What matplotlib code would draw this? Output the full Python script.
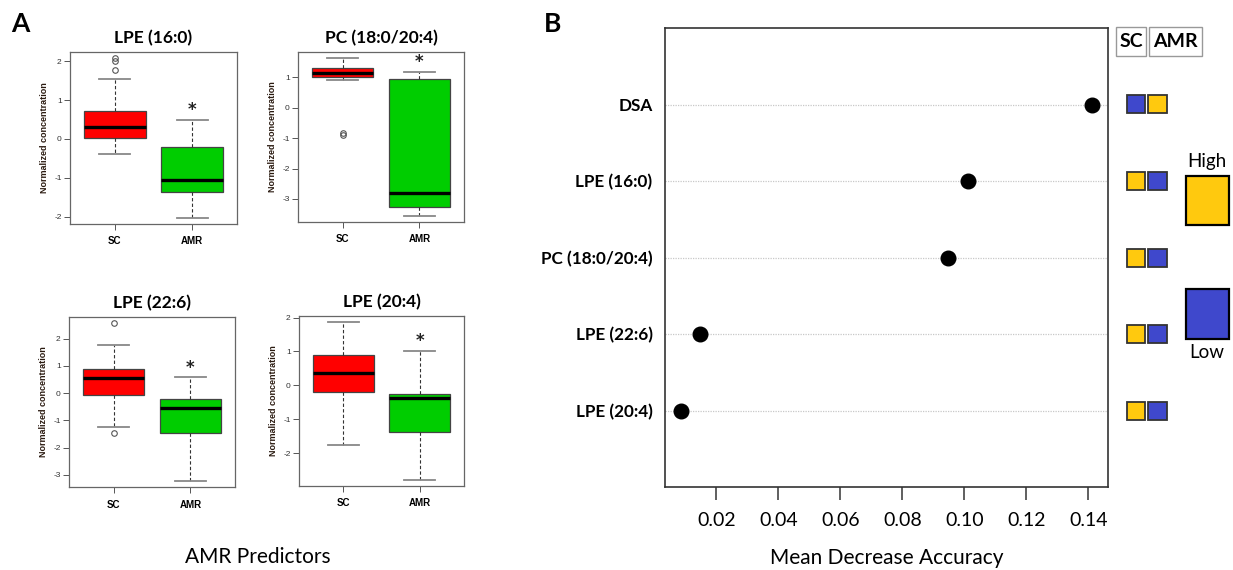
import numpy as np
import matplotlib
matplotlib.use("Agg")
import matplotlib.pyplot as plt
from matplotlib.patches import Rectangle

# ----------------------------------------------------------------------
# Data
# ----------------------------------------------------------------------
groups = ["SC", "AMR"]
box_titles = ["LPE (16:0)", "PC (18:0/20:4)", "LPE (22:6)", "LPE (20:4)"]

# per panel: [SC, AMR] -> (whislo, q1, median, q3, whishi)
box_lpe160 = [(-0.38, 0.03, 0.32, 0.73, 1.53), (-2.02, -1.35, -1.05, -0.21, 0.49)]
box_pc = [(0.91, 1.00, 1.13, 1.31, 1.62), (-3.55, -3.27, -2.79, 0.95, 1.18)]
box_lpe226 = [(-1.23, -0.06, 0.56, 0.88, 1.78), (-3.22, -1.47, -0.56, -0.23, 0.59)]
box_lpe204 = [(-1.77, -0.20, 0.37, 0.90, 1.86), (-2.78, -1.37, -0.37, -0.25, 1.02)]

fliers_lpe160 = [[1.76, 2.01, 2.07], []]
fliers_pc = [[-0.85, -0.91], []]
fliers_lpe226 = [[2.57, -1.48], []]
fliers_lpe204 = [[], []]

all_boxes = [box_lpe160, box_pc, box_lpe226, box_lpe204]
all_fliers = [fliers_lpe160, fliers_pc, fliers_lpe226, fliers_lpe204]
yticks_A = [[-2, -1, 0, 1, 2], [-3, -2, -1, 0, 1], [-3, -2, -1, 0, 1, 2], [-2, -1, 0, 1, 2]]

predictors = ["DSA", "LPE (16:0)", "PC (18:0/20:4)", "LPE (22:6)", "LPE (20:4)"]
mda = [0.141, 0.1012, 0.0948, 0.0148, 0.0087]
sc_level = ["Low", "High", "High", "High", "High"]
amr_level = ["High", "Low", "Low", "Low", "Low"]
xticks_B = [0.02, 0.04, 0.06, 0.08, 0.10, 0.12, 0.14]

level_colors = {"High": "#FFC90E", "Low": "#3F48CC"}
box_colors = ["#FF0000", "#00CD00"]

# ----------------------------------------------------------------------
# Figure
# ----------------------------------------------------------------------
W, H = 1233, 570
fig = plt.figure(figsize=(W / 100, H / 100), dpi=100)
fig.patch.set_facecolor("white")


def px_rect(left, top, right, bottom):
    return [left / W, 1 - bottom / H, (right - left) / W, (bottom - top) / H]


# panel A: four boxplots
rects_A = [(70, 52, 237, 224), (298, 52, 464, 222),
           (69, 317, 235, 487), (299, 316, 464, 486)]

for i in range(4):
    ax = fig.add_axes(px_rect(*rects_A[i]))
    stats = []
    for j in range(2):
        lo, q1, med, q3, hi = all_boxes[i][j]
        stats.append(dict(whislo=lo, q1=q1, med=med, q3=q3, whishi=hi,
                          fliers=all_fliers[i][j], label=groups[j]))
    bp = ax.bxp(stats, positions=[1, 2], widths=0.8, patch_artist=True,
                boxprops=dict(edgecolor="#444444", linewidth=0.9),
                medianprops=dict(color="black", linewidth=2.4),
                whiskerprops=dict(color="#333333", linestyle=(0, (3, 2)), linewidth=0.8),
                capprops=dict(color="#888888", linewidth=1.3),
                flierprops=dict(marker="o", markerfacecolor="none",
                                markeredgecolor="#555555", markersize=4, markeredgewidth=0.8))
    for patch, c in zip(bp["boxes"], box_colors):
        patch.set_facecolor(c)

    # significance star above the AMR whisker
    ax.text(2, all_boxes[i][1][4] + 0.02, "*", ha="center", va="bottom",
            fontsize=12, fontweight="bold", color="#222222")

    vals = [v for b in all_boxes[i] for v in b] + [v for f in all_fliers[i] for v in f]
    lo, hi = min(vals), max(vals)
    pad = (hi - lo) * 0.04
    ax.set_ylim(lo - pad, hi + pad)
    ax.set_xlim(0.42, 2.58)
    ax.set_yticks(yticks_A[i])
    ax.set_yticklabels([str(t) for t in yticks_A[i]], fontsize=6,
                       color="#333333", family="Liberation Sans")
    ax.set_xticks([1, 2])
    ax.set_xticklabels(groups, fontsize=7, fontweight="bold", family="Liberation Sans")
    ax.tick_params(axis="both", length=4, width=0.7, color="#555555", pad=2)
    ax.tick_params(axis="x", pad=5)
    for s in ax.spines.values():
        s.set_color("#666666")
        s.set_linewidth(0.9)
    ax.set_ylabel("Normalized concentration", fontsize=6.5, fontweight="bold",
                  family="Liberation Sans", color="#2a1a10", labelpad=4)
    ax.set_title(box_titles[i], fontsize=12.5, fontweight="bold", family="Lato", pad=6)

fig.text(258 / W, 1 - 557 / H, "AMR Predictors", ha="center", va="center",
         fontsize=15, family="Lato")

# panel B: dot chart of mean decrease accuracy
axB = fig.add_axes(px_rect(665, 28, 1108, 487))
ypos = np.arange(len(predictors), 0, -1)
for y in ypos:
    axB.axhline(y, color="#c8c8c8", linestyle=(0, (1, 1)), linewidth=0.9, zorder=1)
axB.plot(mda, ypos, "o", color="black", markersize=10.5, zorder=3)
axB.set_xlim(0.0034, 0.1463)
axB.set_ylim(0, 6)
axB.set_yticks(ypos)
axB.set_yticklabels(predictors, fontsize=12.3, fontweight="bold", family="Lato")
axB.tick_params(axis="y", length=0, pad=9)
axB.set_xticks(xticks_B)
axB.set_xticklabels([f"{t:.2f}" for t in xticks_B], fontsize=14, family="Lato")
axB.tick_params(axis="x", length=9, width=1.2, color="#444444", pad=9)
for s in axB.spines.values():
    s.set_color("#333333")
    s.set_linewidth(1.2)
axB.set_xlabel("Mean Decrease Accuracy", fontsize=15, family="Lato", labelpad=14)

# legend: SC / AMR level squares, aligned to the dot chart rows
axL = fig.add_axes(px_rect(1110, 28, 1233, 487))
axL.set_xlim(1110, 1233)
axL.set_ylim(0, 6)
axL.axis("off")
unit = 459 / 6.0  # pixels per row unit
sq = 18 / unit
for y, s, a in zip(ypos, sc_level, amr_level):
    axL.add_patch(Rectangle((1127, y - sq / 2), 18, sq, facecolor=level_colors[s],
                            edgecolor="#333333", linewidth=1.3, clip_on=False))
    axL.add_patch(Rectangle((1148, y - sq / 2), 19, sq, facecolor=level_colors[a],
                            edgecolor="#333333", linewidth=1.3, clip_on=False))

hdr_top = 6 + 1 / unit
hdr_h = 29 / unit
axL.add_patch(Rectangle((1116, hdr_top - hdr_h), 30, hdr_h, facecolor="white",
                        edgecolor="#999999", linewidth=1.0, clip_on=False))
axL.add_patch(Rectangle((1149, hdr_top - hdr_h), 53, hdr_h, facecolor="white",
                        edgecolor="#999999", linewidth=1.0, clip_on=False))
axL.text(1131, hdr_top - hdr_h / 2, "SC", ha="center", va="center",
         fontsize=14, fontweight="bold", family="Lato")
axL.text(1175.5, hdr_top - hdr_h / 2, "AMR", ha="center", va="center",
         fontsize=14, fontweight="bold", family="Lato")

axL.add_patch(Rectangle((1186, 6 - (225 - 28) / unit), 43, 49 / unit, facecolor=level_colors["High"],
                        edgecolor="black", linewidth=1.6, clip_on=False))
axL.add_patch(Rectangle((1186, 6 - (339 - 28) / unit), 43, 50 / unit, facecolor=level_colors["Low"],
                        edgecolor="black", linewidth=1.6, clip_on=False))
axL.text(1207, 6 - (162 - 28) / unit, "High", ha="center", va="center",
         fontsize=13.5, family="Lato")
axL.text(1207, 6 - (353 - 28) / unit, "Low", ha="center", va="center",
         fontsize=13.5, family="Lato")

# panel letters
fig.text(11 / W, 1 - 24 / H, "A", ha="left", va="center", fontsize=19,
         fontweight="bold", family="Lato")
fig.text(544 / W, 1 - 24 / H, "B", ha="left", va="center", fontsize=19,
         fontweight="bold", family="Lato")

fig.savefig("out.png", dpi=100, facecolor="white")
